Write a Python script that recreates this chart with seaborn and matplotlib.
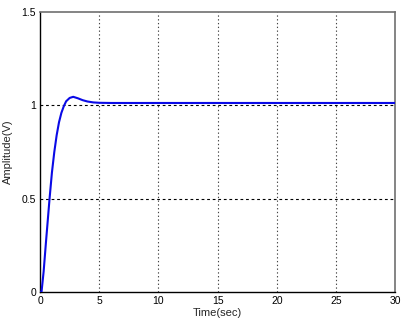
import numpy as np
import pandas as pd
import seaborn as sns
import matplotlib.pyplot as plt

# step response
time = [0, 0.12, 0.3, 0.5, 0.8, 1.0, 1.2, 1.4, 1.6, 1.8, 2.0, 2.2, 2.5, 2.8,
        3.2, 3.6, 4.0, 4.5, 5.0, 6.0, 10.0, 15.0, 20.0, 25.0, 30.0]
amplitude = [0, 0.0, 0.11, 0.27, 0.5, 0.64, 0.75, 0.84, 0.91, 0.96, 0.995, 1.022,
             1.04, 1.046, 1.038, 1.028, 1.021, 1.016, 1.014, 1.013, 1.013, 1.013,
             1.013, 1.013, 1.013]
xticks = [0, 5, 10, 15, 20, 25, 30]
yticks = [0, 0.5, 1, 1.5]

df = pd.DataFrame({"Time(sec)": time, "Amplitude(V)": amplitude})

sns.set_style("white")
plt.rcParams['font.family'] = ['Liberation Sans', 'DejaVu Sans']

fig = plt.figure(figsize=(4.09, 3.26), dpi=100)
ax = fig.add_axes([0.098, 0.104, 0.868, 0.859])

sns.lineplot(data=df, x="Time(sec)", y="Amplitude(V)", ax=ax,
             color="#0a0ae6", linewidth=1.5, zorder=3)

ax.set_xlim(0, 30)
ax.set_ylim(0, 1.5)
ax.set_xticks(xticks)
ax.set_yticks(yticks)
ax.set_xticklabels([str(t) for t in xticks])
ax.set_yticklabels(["0", "0.5", "1", "1.5"])

for x in xticks[1:-1]:
    ax.axvline(x, color="#444444", linestyle=(0, (1.2, 2.2)), linewidth=0.8, zorder=1)
for y in yticks[1:-1]:
    ax.axhline(y, color="black", linestyle=(0, (2.5, 2.5)), linewidth=0.8, zorder=1)

ax.tick_params(direction="in", length=3, labelsize=7.5, colors="black", pad=3)
ax.set_xlabel("Time(sec)", fontsize=8, labelpad=1)
ax.set_ylabel("Amplitude(V)", fontsize=8, labelpad=6)

for side in ["left", "bottom"]:
    ax.spines[side].set_color("black")
    ax.spines[side].set_linewidth(1.0)
for side in ["top", "right"]:
    ax.spines[side].set_color("#707070")
    ax.spines[side].set_linewidth(1.2)

fig.savefig("out.png", dpi=100)
